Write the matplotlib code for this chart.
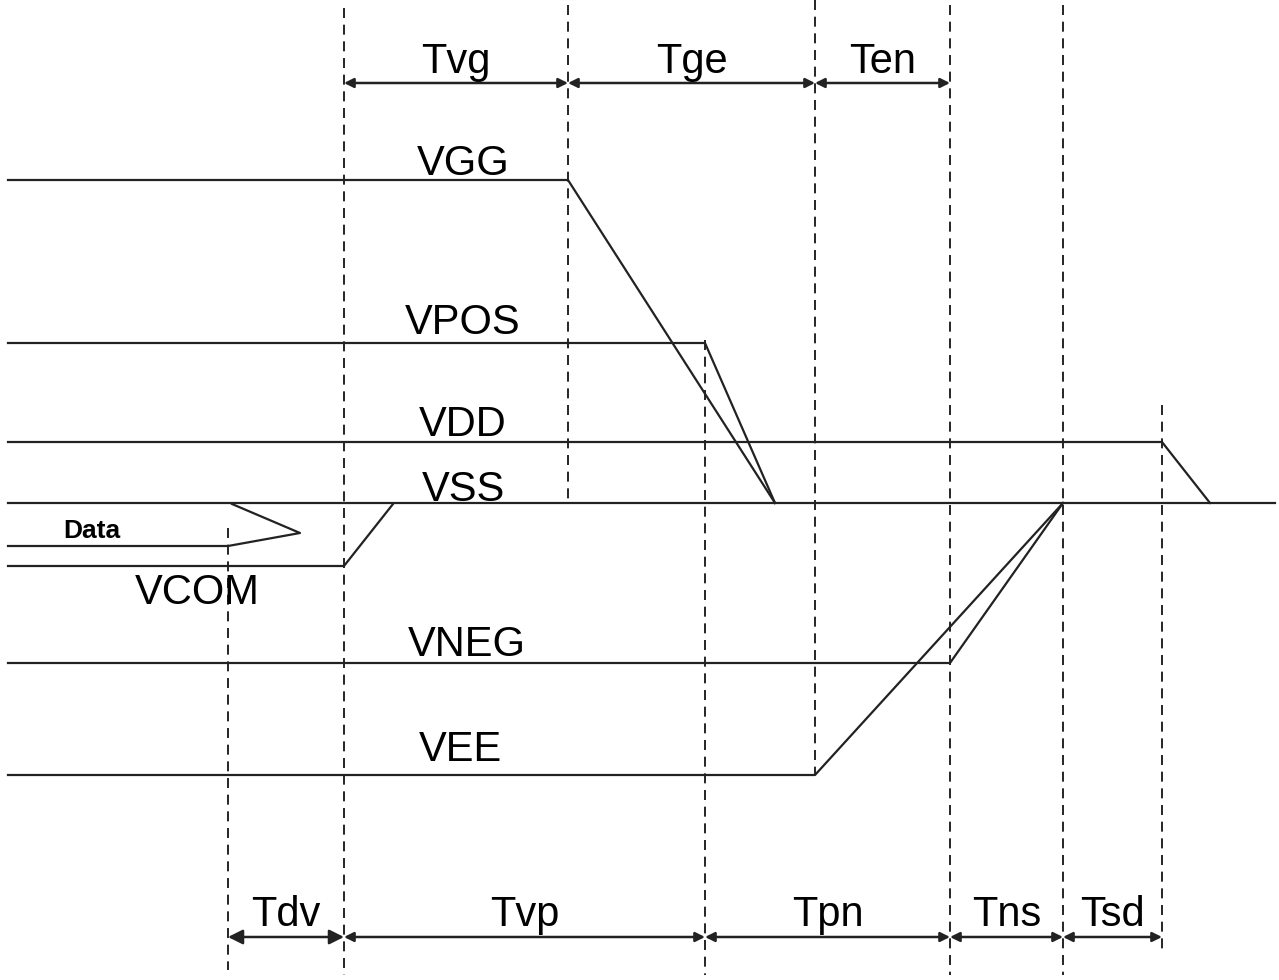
import matplotlib.pyplot as plt

plt.rcParams['font.family'] = ['Liberation Sans', 'DejaVu Sans']

# vertical timing markers: x position, top, bottom
marker_x = [228, 344, 568, 705, 815, 950, 1063, 1162]
marker_top = [528, 8, 5, 340, 0, 5, 5, 405]
marker_bottom = [970, 975, 503, 975, 775, 975, 975, 950]

# signal waveforms (x points, y points)
sig_names = ['VGG', 'VPOS', 'VDD', 'VSS', 'VCOM', 'VNEG', 'VEE']
sig_x = [
    [8, 568, 775],
    [8, 705, 775],
    [8, 1162, 1210],
    [8, 1275],
    [8, 344, 393],
    [8, 950, 1063],
    [8, 815, 1063],
]
sig_y = [
    [180, 180, 503],
    [343, 343, 503],
    [442, 442, 503],
    [503, 503],
    [566, 566, 504],
    [663, 663, 503],
    [775, 775, 503],
]
label_pos = [(463, 164), (463, 323), (463, 425), (463, 490),
             (197, 593), (467, 645), (460, 750)]

# data arrow shape
data_x = [8, 228, 300, 232]
data_y = [546, 546, 533, 504]

# top and bottom interval arrows
top_names = ['Tvg', 'Tge', 'Ten']
top_edges = [344, 568, 815, 950]
bot_names = ['Tdv', 'Tvp', 'Tpn', 'Tns', 'Tsd']
bot_edges = [228, 344, 705, 950, 1063, 1162]

fig = plt.figure(figsize=(12.79, 9.8), dpi=100)
ax = fig.add_axes([0, 0, 1, 1])
ax.set_xlim(0, 1279)
ax.set_ylim(980, 0)
ax.axis('off')

lc = '#222222'
for x, t, b in zip(marker_x, marker_top, marker_bottom):
    ax.plot([x, x], [t, b], color='black', lw=1.2, ls=(0, (6, 4)))

for name, xs, ys, (lx, ly) in zip(sig_names, sig_x, sig_y, label_pos):
    ax.plot(xs, ys, color=lc, lw=1.6)
    ax.text(lx, ly, name, fontsize=30, ha='center', va='center')

ax.plot(data_x, data_y, color=lc, lw=1.6)
ax.text(92, 531, 'Data', fontsize=19, fontweight='bold', ha='center', va='center')


def interval_arrows(names, edges, y, ty, scales):
    for i, name in enumerate(names):
        ax.annotate('', xy=(edges[i], y), xytext=(edges[i + 1], y),
                    arrowprops=dict(arrowstyle='<|-|>', color=lc, lw=1.8,
                                    mutation_scale=scales[i], shrinkA=0, shrinkB=0))
        ax.text((edges[i] + edges[i + 1]) / 2, ty, name, fontsize=30,
                ha='center', va='center')


interval_arrows(top_names, top_edges, 83, 62, [14, 14, 14])
interval_arrows(bot_names, bot_edges, 937, 915, [22, 14, 14, 14, 14])

fig.savefig('out.png', dpi=100)
